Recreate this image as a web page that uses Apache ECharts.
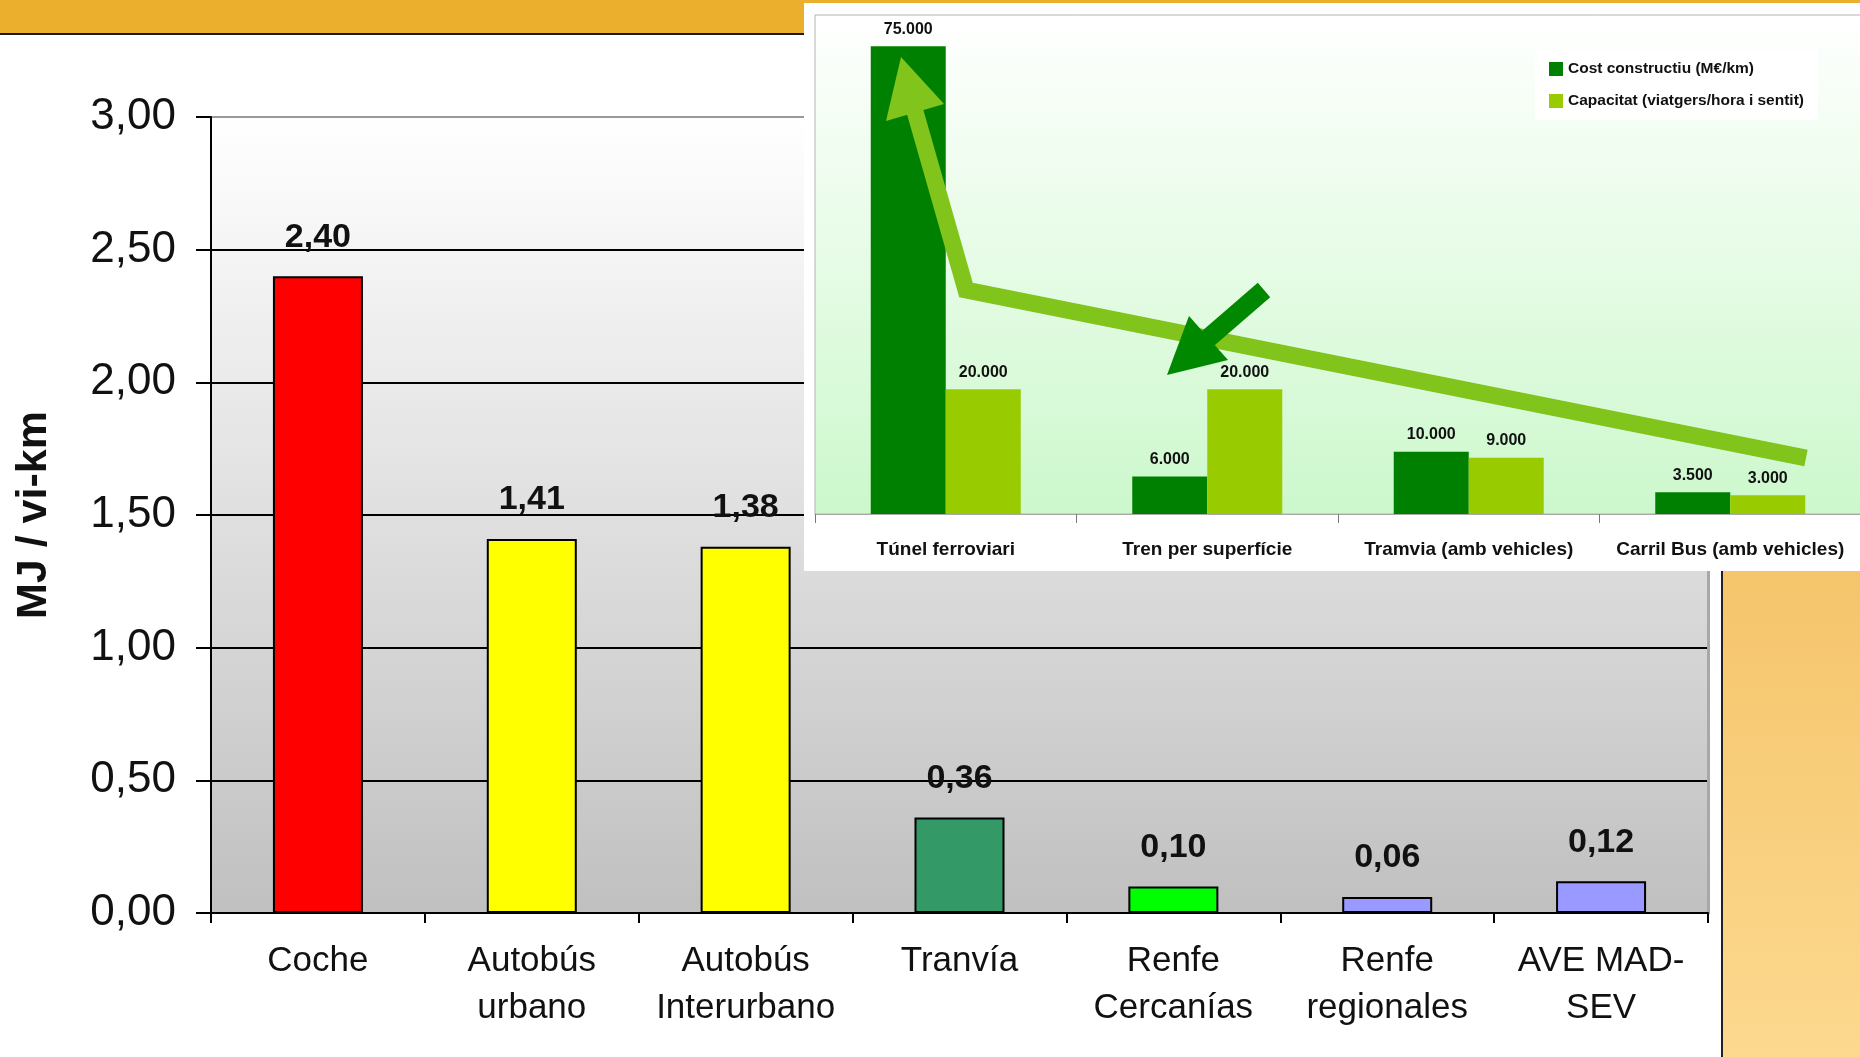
<!DOCTYPE html>
<html>
<head>
<meta charset="utf-8">
<script src="https://cdn.jsdelivr.net/npm/echarts@6/dist/echarts.min.js"></script>
<style>html,body{margin:0;padding:0;background:#fff}#c{width:1860px;height:1057px}</style>
</head>
<body>
<div id="c"></div>
<script>
// ---- Main chart data ----
const mainCategories = ['Coche', 'Autobús\nurbano', 'Autobús\nInterurbano', 'Tranvía', 'Renfe\nCercanías', 'Renfe\nregionales', 'AVE MAD-\nSEV'];
const mainValues = [2.40, 1.41, 1.38, 0.36, 0.10, 0.06, 0.12];
const mainColors = ['#ff0000', '#ffff00', '#ffff00', '#339966', '#00ff00', '#9999ff', '#9999ff'];
const mainAxisName = 'MJ / vi-km';

// ---- Inset chart data ----
const insetCategories = ['Túnel ferroviari', 'Tren per superfície', 'Tramvia (amb vehicles)', 'Carril Bus (amb vehicles)'];
const costName = 'Cost constructiu (M€/km)';
const costValues = [75000, 6000, 10000, 3500];
const capacityName = 'Capacitat (viatgers/hora i sentit)';
const capacityValues = [20000, 20000, 9000, 3000];

const FONT = "'Liberation Sans', Arial, Helvetica, sans-serif";
const dotThousands = v => String(v).replace(/\B(?=(\d{3})+(?!\d))/g, '.');
const comma2 = v => Number(v).toFixed(2).replace('.', ',');

const chart = echarts.init(document.getElementById('c'), null, {renderer: 'canvas'});
const LG = echarts.graphic.LinearGradient;

const option = {
  animation: false,
  backgroundColor: '#ffffff',
  textStyle: {fontFamily: FONT},
  grid: [
    {left: 211, top: 117, width: 1497, height: 796, show: true, borderWidth: 0,
     containLabel: false, outerBoundsMode: 'none',
     backgroundColor: new LG(0, 0, 0, 1, [{offset: 0, color: '#ffffff'}, {offset: 1, color: '#c0c0c0'}])},
    {left: 815, top: 15, width: 1046, height: 499, show: true, zlevel: 1,
     containLabel: false, outerBoundsMode: 'none',
     borderColor: '#b4b4b4', borderWidth: 1,
     backgroundColor: new LG(0, 0, 0, 1, [{offset: 0, color: '#ffffff'}, {offset: 1, color: '#ccf8cc'}])}
  ],
  legend: {
    zlevel: 1, z: 20,
    data: [costName, capacityName],
    orient: 'vertical', left: 1535, top: 50,
    backgroundColor: '#ffffff', padding: [10, 14],
    itemWidth: 14, itemHeight: 14, itemGap: 14, icon: 'rect',
    textStyle: {fontFamily: FONT, fontWeight: 'bold', fontSize: 15.5, color: '#111', lineHeight: 18}
  },
  xAxis: [
    {gridIndex: 0, type: 'category', data: mainCategories,
     axisLine: {lineStyle: {color: '#000', width: 2}},
     axisTick: {show: true, length: 10, lineStyle: {color: '#000', width: 2}},
     axisLabel: {interval: 0, fontFamily: FONT, fontSize: 35, lineHeight: 47, color: '#111', margin: 25}},
    {gridIndex: 1, type: 'category', data: insetCategories, zlevel: 1,
     axisLine: {lineStyle: {color: '#a8a8a8', width: 1}},
     axisTick: {show: true, length: 9, lineStyle: {color: '#777', width: 1}},
     axisLabel: {interval: 0, fontFamily: FONT, fontWeight: 'bold', fontSize: 19, color: '#111', margin: 26}}
  ],
  yAxis: [
    {gridIndex: 0, type: 'value', min: 0, max: 3, interval: 0.5,
     name: mainAxisName, nameLocation: 'middle', nameGap: 155, nameRotate: 90,
     nameTextStyle: {fontFamily: FONT, fontWeight: 'bold', fontSize: 43, color: '#111'},
     axisLine: {show: true, lineStyle: {color: '#000', width: 2}},
     axisTick: {show: true, length: 15, lineStyle: {color: '#000', width: 2}},
     axisLabel: {formatter: comma2, fontFamily: FONT, fontSize: 44, color: '#111', margin: 35},
     splitLine: {show: true, lineStyle: {color: ['#000', '#000', '#000', '#000', '#000', '#000', '#999'], width: 2}}},
    {gridIndex: 0, type: 'value', min: 0, max: 3, interval: 0.5, position: 'right',
     axisLine: {show: true, lineStyle: {color: '#a8a8a8', width: 3}},
     axisTick: {show: false}, axisLabel: {show: false}, splitLine: {show: false}},
    {gridIndex: 1, type: 'value', min: 0, max: 80000, show: false, zlevel: 1,
     splitLine: {show: false}}
  ],
  series: [
    {type: 'bar', xAxisIndex: 0, yAxisIndex: 0, barWidth: 90,
     data: mainValues.map((v, i) => ({value: v, itemStyle: {color: mainColors[i]}})),
     itemStyle: {borderColor: '#000', borderWidth: 2},
     label: {show: true, position: 'top', distance: 22, formatter: p => comma2(p.value),
             fontFamily: FONT, fontWeight: 'bold', fontSize: 34, color: '#111'}},
    {name: costName, type: 'bar', xAxisIndex: 1, yAxisIndex: 2, zlevel: 1, barWidth: 75, barGap: '0%',
     data: costValues, itemStyle: {color: '#008000'},
     label: {show: true, position: 'top', distance: 9, formatter: p => dotThousands(p.value),
             fontFamily: FONT, fontWeight: 'bold', fontSize: 16, color: '#111'}},
    {name: capacityName, type: 'bar', xAxisIndex: 1, yAxisIndex: 2, zlevel: 1, barWidth: 75, barGap: '0%',
     data: capacityValues, itemStyle: {color: '#99cc00'},
     label: {show: true, position: 'top', distance: 9, formatter: p => dotThousands(p.value),
             fontFamily: FONT, fontWeight: 'bold', fontSize: 16, color: '#111'}}
  ],
  graphic: {elements: [
    // header band
    {type: 'rect', zlevel: 0, z: 10, shape: {x: 0, y: 0, width: 1860, height: 33}, style: {fill: '#ebaf2d'}},
    {type: 'line', zlevel: 0, z: 11, shape: {x1: 0, y1: 34, x2: 804, y2: 34}, style: {stroke: '#1a1a1a', lineWidth: 2}},
    // orange side panel
    {type: 'rect', zlevel: 0, z: 10, shape: {x: 1722, y: 560, width: 138, height: 497},
     style: {fill: new LG(0, 0, 0, 1, [{offset: 0, color: '#f5c46a'}, {offset: 1, color: '#fcd98f'}])}},
    {type: 'line', zlevel: 0, z: 11, shape: {x1: 1722, y1: 560, x2: 1722, y2: 1057}, style: {stroke: '#222', lineWidth: 2}},
    // inset white panel
    {type: 'rect', zlevel: 1, z: -1, shape: {x: 804, y: 3, width: 1056, height: 568}, style: {fill: '#ffffff'}},
    // big light green arrow
    {type: 'polyline', zlevel: 1, z: 50, shape: {points: [[1806, 458], [966, 290], [914, 108]]},
     style: {stroke: '#80c41c', lineWidth: 17, fill: null, lineJoin: 'miter', lineCap: 'butt'}},
    {type: 'polygon', zlevel: 1, z: 51, shape: {points: [[901, 57], [886, 121], [944, 104]]}, style: {fill: '#80c41c'}},
    // dark green arrow
    {type: 'line', zlevel: 1, z: 52, shape: {x1: 1264, y1: 290, x2: 1205, y2: 341},
     style: {stroke: '#008800', lineWidth: 19, lineCap: 'butt'}},
    {type: 'polygon', zlevel: 1, z: 53, shape: {points: [[1167, 375], [1189, 316], [1228, 360]]}, style: {fill: '#008800'}}
  ]}
};
chart.setOption(option);
</script>
</body>
</html>
